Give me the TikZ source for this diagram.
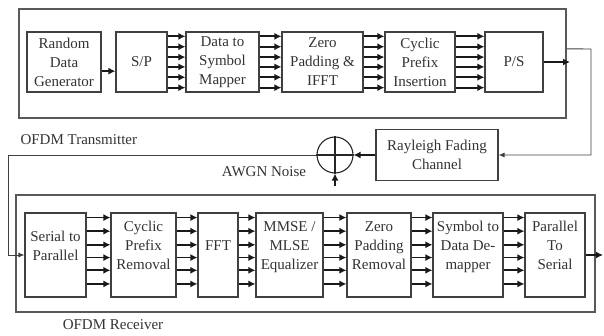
\documentclass[tikz,border=0pt]{standalone}
\usepackage{fontspec}
\setmainfont{Liberation Serif}
\usetikzlibrary{arrows.meta,calc}
\tikzset{
  block/.style={draw=black!75, line width=1.1pt, fill=white, align=center, inner sep=1pt, font=\fontsize{15}{19}\selectfont, text=black!80},
  txblock/.style={block, minimum height=60pt},
  rxblock/.style={block, minimum height=84pt, text depth=19pt},
  frame/.style={draw=black!65, line width=1.1pt, inner sep=0pt},
  bus/.style={-{Latex[length=7pt,width=7pt]}, line width=1.8pt, black!90},
  arrow/.style={-{Latex[length=7pt,width=7pt]}, line width=1.8pt, black!90},
  thinarrow/.style={-{Latex[length=6pt,width=5pt]}, line width=0.9pt, black!75},
  caption/.style={font=\fontsize{15}{18}\selectfont, text=black!80}
}
\begin{document}
\begin{tikzpicture}[x=1pt,y=-1pt]
  \useasboundingbox (0,0) rectangle (604,336);
  % frames
  \node[frame, minimum width=547pt, minimum height=109pt] (tx) at (292.5,63.5) {};
  \node[frame, minimum width=579pt, minimum height=117pt] (rx) at (305.5,253.5) {};
  \node[caption, anchor=west] (txlabel) at (17,140) {OFDM Transmitter};
  \node[caption] (rxlabel) at (113,325) {OFDM Receiver};
  % transmitter
  \node[txblock, minimum width=74pt] (rdg) at (64,62) {Random\\Data\\Generator};
  \node[txblock, minimum width=51pt] (sp) at (141.5,62) {S/P};
  \node[txblock, minimum width=73pt] (map) at (222.5,62) {Data to\\Symbol\\Mapper};
  \node[txblock, minimum width=81pt] (zp) at (322.5,62) {Zero\\Padding \&\\IFFT};
  \node[txblock, minimum width=70pt] (cp) at (420,62) {Cyclic\\Prefix\\Insertion};
  \node[txblock, minimum width=58pt] (ps) at (514,62) {P/S};
  % channel
  \node[block, minimum width=122pt, minimum height=51pt] (ray) at (437,155) {Rayleigh Fading\\Channel};
  \node[draw=black!85, line width=1.1pt, circle, minimum size=36pt, inner sep=0pt] (sum) at (335,155) {};
  \draw[black!85, line width=1.1pt] (sum.north) -- (sum.south) (sum.west) -- (sum.east);
  \node[caption] (awgn) at (264,172) {AWGN Noise};
  % receiver
  \node[rxblock, minimum width=61pt] (s2p) at (55.5,255) {Serial to\\Parallel};
  \node[rxblock, minimum width=65pt] (cpr) at (143.5,255) {Cyclic\\Prefix\\Removal};
  \node[rxblock, minimum width=40pt] (fft) at (218,255) {FFT};
  \node[rxblock, minimum width=67pt] (eq) at (289.5,255) {MMSE /\\MLSE\\Equalizer};
  \node[rxblock, minimum width=64pt] (zpr) at (379,255) {Zero\\Padding\\Removal};
  \node[rxblock, minimum width=70pt] (demap) at (468,255) {Symbol to\\Data De-\\mapper};
  \node[rxblock, minimum width=60pt] (p2s) at (555,255) {Parallel\\To\\Serial};
  % free ends
  \coordinate (psout) at (570,62);
  \coordinate (txtap) at ($(tx.north east)!0.367!(tx.south east)$);
  \coordinate (rgt) at (591,49);
  \coordinate (noise) at (335,186);
  \coordinate (lft) at (8,155);
  \coordinate (rxout) at (603,255);
  % connectors
  \draw[arrow] ($(rdg.north east)!0.65!(rdg.south east)$) -- ($(sp.north west)!0.65!(sp.south west)$);
  \foreach \a/\b in {sp/map, map/zp, zp/cp, cp/ps}
    \foreach \f in {0.08,0.25,0.42,0.58,0.75,0.92}
      \draw[bus] ($(\a.north east)!\f!(\a.south east)$) -- ($(\b.north west)!\f!(\b.south west)$);
  \draw[arrow] (ps.east) -- (psout);
  \draw[thinarrow] (txtap) -- (rgt) |- (ray.east);
  \draw[arrow] (ray.west) -- (sum.east);
  \draw[arrow] (noise) -- (sum.south);
  \draw[thinarrow] (sum.west) -- (lft) |- (s2p.west);
  \foreach \a/\b in {s2p/cpr, cpr/fft, fft/eq, eq/zpr, zpr/demap, demap/p2s}
    \foreach \f in {0.06,0.22,0.38,0.53,0.68,0.84}
      \draw[bus] ($(\a.north east)!\f!(\a.south east)$) -- ($(\b.north west)!\f!(\b.south west)$);
  \draw[arrow] (p2s.east) -- (rxout);
\end{tikzpicture}
\end{document}
